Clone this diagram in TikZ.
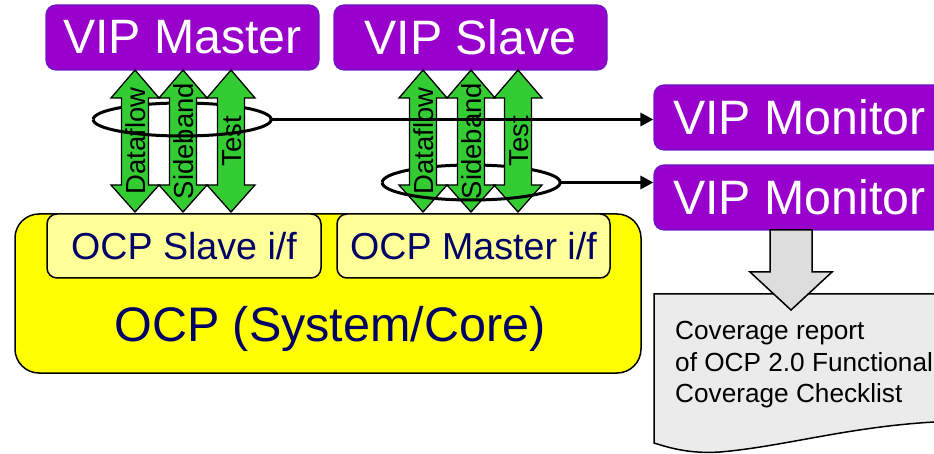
\documentclass[tikz,border=0pt]{standalone}
\usepackage{fontspec}
\setmainfont{Liberation Sans}
\usetikzlibrary{shapes.geometric,arrows.meta}
\definecolor{vip}{HTML}{9900CC}
\definecolor{vipb}{HTML}{6A1BC8}
\definecolor{grn}{HTML}{33CC33}
\definecolor{navy}{HTML}{000066}
\definecolor{ylw}{HTML}{FFFF00}
\definecolor{lylw}{HTML}{FFFF99}
\definecolor{garrow}{HTML}{DDDDDD}
\definecolor{docg}{HTML}{EBEBEB}
\begin{document}
\begin{tikzpicture}[x=1pt,y=-1pt,
  vipbox/.style={draw=vipb, line width=1.2pt, fill=vip, rounded corners=10pt, text=white,
    inner sep=0pt, font=\fontsize{48.3}{48.3}\selectfont},
  ifbox/.style={draw=black, line width=1.5pt, fill=lylw, rounded corners=10pt, text=navy,
    inner sep=0pt, font=\fontsize{37.6}{37.6}\selectfont},
  ocpbox/.style={draw=black, line width=1.5pt, fill=ylw, rounded corners=24pt, inner sep=0pt},
  grnarrow/.style={draw=black, line width=1.3pt, fill=grn, line join=miter},
  arrlab/.style={rotate=90, inner sep=0pt, font=\fontsize{27.5}{27.5}\selectfont},
  ringline/.style={draw=black, line width=3pt},
  conn/.style={draw=black, line width=3pt, -{Triangle[length=13pt,width=13pt]}},
  ellnode/.style={ellipse, inner sep=0pt},
  doctext/.style={anchor=base west, inner sep=0pt, font=\fontsize{26.2}{26.2}\selectfont}
]
\useasboundingbox (0,0) rectangle (934,454);
\clip (0,0) rectangle (934,454);
\fill[white] (0,0) rectangle (934,454);

% OCP core
\node[ocpbox, minimum width=626pt, minimum height=159pt] (ocp) at (328,293.5) {};
\node[text=navy, inner sep=0pt, font=\fontsize{48.5}{48.5}\selectfont] (ocpt) at (330,329) {OCP (System/Core)};
\node[ifbox, minimum width=274pt, minimum height=64pt] (sif) at (184,246) {OCP Slave i/f};
\node[ifbox, minimum width=273pt, minimum height=64pt] (mif) at (473.5,246) {OCP Master i/f};

% VIP boxes
\node[vipbox, minimum width=273pt, minimum height=65pt] (vm) at (182.5,37.5) {VIP Master};
\node[vipbox, minimum width=273pt, minimum height=65pt] (vs) at (470.5,37.5) {VIP Slave};
\node[vipbox, minimum width=291pt, minimum height=65pt] (m1) at (799.5,117.5) {VIP Monitor};
\node[vipbox, minimum width=291pt, minimum height=65pt] (m2) at (799.5,197.5) {VIP Monitor};

% rings (back halves)
\node[ellnode, minimum width=178pt, minimum height=33pt] (e1) at (182,119.5) {};
\node[ellnode, minimum width=178pt, minimum height=35pt] (e2) at (471,182.5) {};
\draw[ringline] (e1.east) arc[start angle=0, end angle=-180, x radius=89, y radius=16.5];
\draw[ringline] (e2.east) arc[start angle=0, end angle=-180, x radius=89, y radius=17.5];

% green double arrows
\foreach \cx/\nm/\lab in {135/a1/Dataflow,183/a2/Sideband,231/a3/Test,423/b1/Dataflow,471/b2/Sideband,518/b3/Test}{
  \draw[grnarrow] (\cx,70) -- (\cx+24,98) -- (\cx+13.5,98) -- (\cx+13.5,185) -- (\cx+24,185)
    -- (\cx,212) -- (\cx-24,185) -- (\cx-13.5,185) -- (\cx-13.5,98) -- (\cx-24,98) -- cycle;
  \node[arrlab] (\nm) at (\cx+1,141) {\lab};
}

% rings (front halves)
\draw[ringline] (e1.east) arc[start angle=0, end angle=180, x radius=89, y radius=16.5];
\draw[ringline] (e2.east) arc[start angle=0, end angle=180, x radius=89, y radius=17.5];

% connectors
\draw[conn] (e1.east) -- (e1.east -| m1.west);
\draw[conn] (e2.east) -- (e2.east -| m2.west);

% coverage document
\draw[draw=black, line width=1.5pt, fill=docg] (654,294) -- (960,294) -- (960,421)
  .. controls (860,423) and (790,446) .. (720,452)
  .. controls (690,454) and (670,448) .. (654,443) -- cycle;
\draw[draw=black, line width=1.5pt, fill=garrow, line join=miter]
  (770,230) -- (812,230) -- (812,272) -- (832,272) -- (791,310) -- (750,272) -- (770,272) -- cycle;
\node[doctext] (d1) at (675,339) {Coverage report};
\node[doctext] (d2) at (675,371) {of OCP 2.0 Functional};
\node[doctext] (d3) at (675,402) {Coverage Checklist};
\end{tikzpicture}
\end{document}
